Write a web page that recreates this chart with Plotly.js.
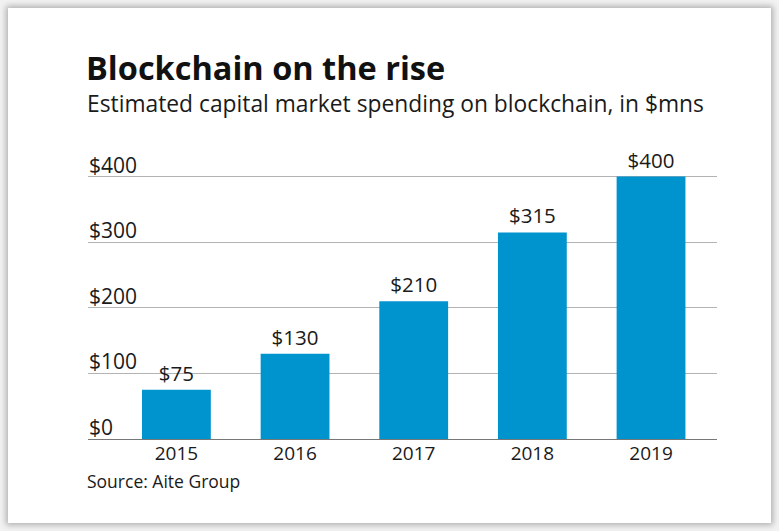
<!DOCTYPE html>
<html>
<head>
<meta charset="utf-8">
<script src="https://cdn.plot.ly/plotly-3.0.1.min.js"></script>
<style>
  html, body { margin: 0; padding: 0; background: #ffffff; }
  #wrap { position: relative; width: 779px; height: 531px; overflow: hidden; background: #f2f2f2; }
  #card { position: absolute; left: 8px; top: 8px; width: 763px; height: 515px; background: #ffffff;
          box-shadow: 0 0 6px 2px rgba(0,0,0,0.28); }
  #chart { position: absolute; left: 0; top: 0; width: 779px; height: 531px; }
</style>
</head>
<body>
<div id="wrap">
  <div id="card"></div>
  <div id="chart"></div>
</div>
<script>
const years = ["2015", "2016", "2017", "2018", "2019"];
const spending = [75, 130, 210, 315, 400];
const valueLabels = ["$75", "$130", "$210", "$315", "$400"];
const yTickValues = [0, 100, 200, 300, 400];
const yTickLabels = ["$0", "$100", "$200", "$300", "$400"];

const FONT = "'Open Sans', Lato, sans-serif";
const TEXT = "#1a1a1a";

const trace = {
  type: "bar",
  x: years,
  y: spending,
  text: valueLabels,
  textposition: "outside",
  cliponaxis: false,
  textfont: { family: FONT, size: 20.5, color: TEXT },
  marker: { color: "#0094cf", line: { width: 0 } },
  hoverinfo: "x+y"
};

const annotations = yTickValues.map((v, i) => ({
  xref: "paper", yref: "y", x: 0, y: v,
  xanchor: "left", yanchor: "bottom", xshift: -1, yshift: -4,
  text: yTickLabels[i], showarrow: false,
  font: { family: FONT, size: 21, color: TEXT }
}));

annotations.push({
  xref: "paper", yref: "paper", x: 0, y: (439 - 107) / 262,
  xanchor: "left", yanchor: "middle", xshift: -3,
  text: "Estimated capital market spending on blockchain, in $mns",
  showarrow: false, font: { family: FONT, size: 22.8, color: TEXT }
});
annotations.push({
  xref: "paper", yref: "paper", x: 0, y: (439 - 481) / 262,
  xanchor: "left", yanchor: "middle", xshift: -3,
  text: "Source: Aite Group",
  showarrow: false, font: { family: FONT, size: 17.5, color: TEXT }
});

const layout = {
  width: 779, height: 531,
  margin: { l: 88, r: 62, t: 174.4, b: 92 },
  paper_bgcolor: "rgba(0,0,0,0)",
  plot_bgcolor: "rgba(0,0,0,0)",
  showlegend: false,
  bargap: 0.42,
  title: {
    text: "<b>Blockchain on the rise</b>",
    xref: "container", yref: "container",
    x: 86 / 779, xanchor: "left",
    y: 1 - 69 / 531, yanchor: "middle",
    font: { family: FONT, size: 32.5, color: "#111111" }
  },
  xaxis: {
    type: "category",
    range: [-0.745, 4.556],
    showgrid: false, zeroline: false, showline: false,
    ticks: "", ticklabelstandoff: 1,
    tickfont: { family: FONT, size: 19, color: TEXT },
    fixedrange: true
  },
  yaxis: {
    range: [0, 404],
    tickvals: yTickValues,
    showticklabels: false,
    showgrid: true, gridcolor: "#b3b3b3", gridwidth: 1,
    zeroline: true, zerolinecolor: "#777777", zerolinewidth: 1,
    showline: false, ticks: "",
    fixedrange: true
  },
  annotations: annotations
};

Plotly.newPlot("chart", [trace], layout, { displayModeBar: false, staticPlot: true });
</script>
</body>
</html>
